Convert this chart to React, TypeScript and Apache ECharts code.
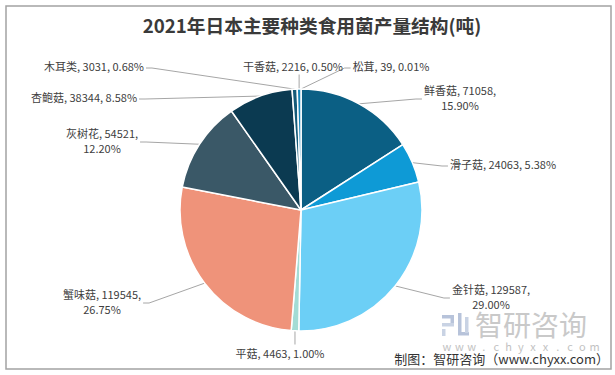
import React, { useEffect, useRef } from 'react';
import * as echarts from 'echarts';

const categories = ['松茸', '鲜香菇', '滑子菇', '金针菇', '平菇', '蟹味菇', '灰树花', '杏鲍菇', '木耳类', '干香菇'];
const values = [39, 71058, 24063, 129587, 4463, 119545, 54521, 38344, 3031, 2216];
const percentLabels = ['0.01%', '15.90%', '5.38%', '29.00%', '1.00%', '26.75%', '12.20%', '8.58%', '0.68%', '0.50%'];
const wrapLabel = [false, true, false, true, false, true, true, false, false, false];
const sliceColors = ['#0b6a92', '#0b5f84', '#0e9ad6', '#6ccff6', '#a3dcd5', '#ef937a', '#3a5867', '#0b3a51', '#145a78', '#1585b8'];

// label placement (layout only): centre of the label block and side where the leader line attaches
const labelPlacement: { x: number; y: number; side: string }[] = [
  { x: 391, y: 66, side: 'left' },
  { x: 460, y: 97, side: 'left' },
  { x: 503, y: 164, side: 'left' },
  { x: 491, y: 296, side: 'left' },
  { x: 280, y: 353, side: 'top' },
  { x: 102, y: 301, side: 'right' },
  { x: 102, y: 140, side: 'right' },
  { x: 84, y: 97, side: 'right' },
  { x: 94, y: 66, side: 'right' },
  { x: 293, y: 66, side: 'bottom' },
];

const CX = 301;
const CY = 210;
const R = 121;
const FONT = '"Microsoft YaHei", "Noto Sans CJK SC", sans-serif';

export default function App() {
  const ref = useRef<HTMLDivElement>(null);

  useEffect(() => {
    if (!ref.current) return;
    const chart = echarts.init(ref.current, undefined, { renderer: 'svg' });
    const total = values.reduce((a, b) => a + b, 0);
    const starts: number[][] = [];
    let cum = 0;
    values.forEach((v) => {
      const a = (2 * Math.PI * (cum + v / 2)) / total;
      starts.push([CX + R * Math.sin(a), CY - R * Math.cos(a)]);
      cum += v;
    });

    const wmLetters = 'www.chyxx.com'.split('');
    const graphic: any[] = [
      {
        type: 'rect',
        shape: { x: 6, y: 6, width: 605, height: 363 },
        style: { fill: 'none', stroke: '#a3a3a3', lineWidth: 1.5 },
        silent: true,
        z: 0,
      },
      // watermark logo
      { type: 'rect', shape: { x: 442, y: 315, width: 12, height: 3.5 }, style: { fill: '#b7c3da' }, z: 1 },
      { type: 'rect', shape: { x: 450.5, y: 315, width: 3.5, height: 11 }, style: { fill: '#b7c3da' }, z: 1 },
      { type: 'rect', shape: { x: 442, y: 323, width: 12, height: 3.5 }, style: { fill: '#c9d3e4' }, z: 1 },
      { type: 'rect', shape: { x: 442, y: 329, width: 3.5, height: 7 }, style: { fill: '#c9d3e4' }, z: 1 },
      { type: 'rect', shape: { x: 458, y: 313, width: 3.5, height: 20 }, style: { fill: '#b7c3da' }, z: 1 },
      { type: 'rect', shape: { x: 458, y: 332, width: 11, height: 3.5 }, style: { fill: '#b7c3da' }, z: 1 },
      { type: 'rect', shape: { x: 465, y: 317, width: 3.5, height: 16 }, style: { fill: '#c9d3e4' }, z: 1 },
      {
        type: 'text',
        x: 475,
        y: 324,
        style: { text: '智研咨询', font: `28px ${FONT}`, fill: '#c9c9c9', textVerticalAlign: 'middle', textAlign: 'left' },
        z: 1,
      },
      ...wmLetters.map((ch, i) => ({
        type: 'text',
        x: 447 + i * 12.3,
        y: 345.5,
        style: { text: ch, font: `11px ${FONT}`, fill: '#c2c2c2', textAlign: 'center', textVerticalAlign: 'middle' },
        z: 1,
      })),
      {
        type: 'text',
        x: 609,
        y: 358.5,
        style: {
          text: '制图：智研咨询（www.chyxx.com）',
          font: `13px ${FONT}`,
          fill: '#333333',
          textAlign: 'right',
          textVerticalAlign: 'middle',
        },
        z: 2,
      },
    ];

    chart.setOption({
      animation: false,
      title: {
        text: '2021年日本主要种类食用菌产量结构(吨)',
        left: 307,
        top: 10,
        textAlign: 'center',
        textStyle: { fontSize: 18.7, fontWeight: 'bold', color: '#3a3a3a', fontFamily: '"Noto Sans CJK SC", sans-serif' },
      },
      graphic,
      series: [
        {
          type: 'pie',
          center: [CX, CY],
          radius: R,
          startAngle: 90,
          clockwise: true,
          avoidLabelOverlap: false,
          itemStyle: { borderColor: '#ffffff', borderWidth: 1.5 },
          label: {
            show: true,
            position: 'outside',
            fontSize: 11,
            lineHeight: 15,
            color: '#404040',
            fontFamily: FONT,
            formatter: (p: any) => {
              const i = p.dataIndex;
              const sep = wrapLabel[i] ? ',\n' : ', ';
              return `${categories[i]}, ${values[i]}${sep}${percentLabels[i]}`;
            },
          },
          labelLine: { show: true, length: 10, length2: 10, lineStyle: { color: '#a6a6a6', width: 1 } },
          labelLayout: (p: any) => {
            const i = p.dataIndex;
            const pos = labelPlacement[i];
            const w = p.labelRect.width;
            const h = p.labelRect.height;
            const s = starts[i];
            let end: number[];
            let mid: number[];
            if (pos.side === 'left') {
              end = [pos.x - w / 2 - 2, pos.y + 2];
              mid = [end[0] - 6, end[1]];
            } else if (pos.side === 'right') {
              end = [pos.x + w / 2 + 2, pos.y + 2];
              mid = [end[0] + 6, end[1]];
            } else if (pos.side === 'top') {
              end = [s[0], pos.y - h / 2 - 1];
              mid = end;
            } else {
              end = [s[0], pos.y + h / 2 + 1];
              mid = end;
            }
            return {
              x: pos.x,
              y: pos.y,
              align: 'center',
              verticalAlign: 'middle',
              labelLinePoints: [s, mid, end],
            };
          },
          data: categories.map((name, i) => ({ name, value: values[i], itemStyle: { color: sliceColors[i] } })),
        },
      ],
    });
    return () => chart.dispose();
  }, []);

  return (
    <div
      ref={ref}
      style={{ position: 'fixed', left: 0, top: 0, width: 615, height: 375, background: '#ffffff' }}
    />
  );
}
